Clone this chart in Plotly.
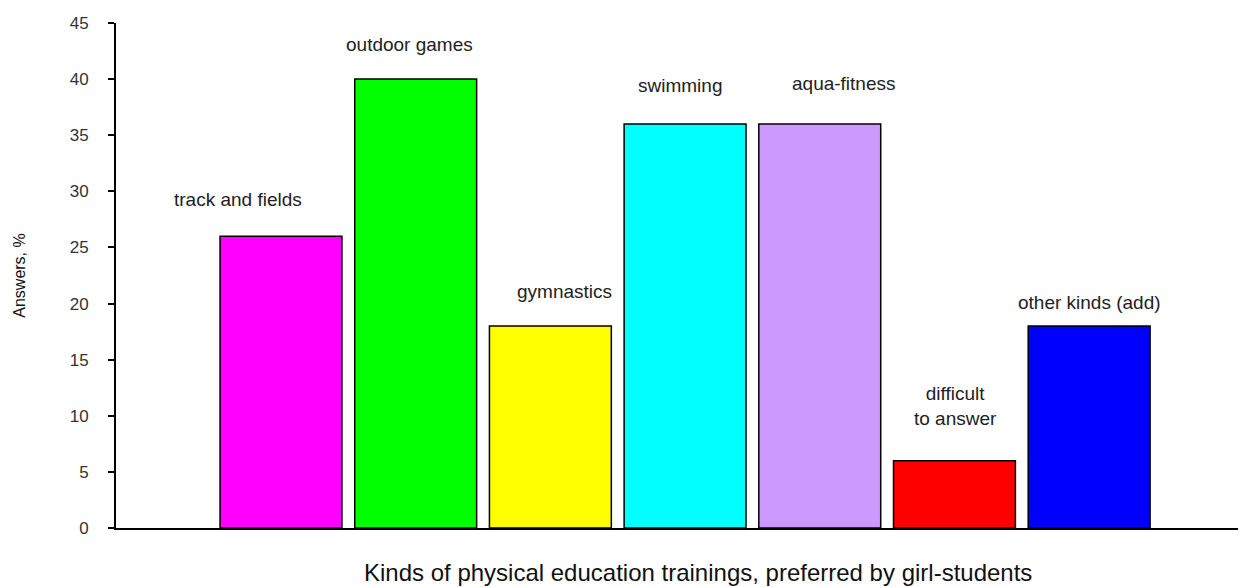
import plotly.graph_objects as go

categories = ["track and fields", "outdoor games", "gymnastics", "swimming",
              "aqua-fitness", "difficult<br>to answer", "other kinds (add)"]
values = [26, 40, 18, 36, 36, 6, 18]
colors = ["#FF00FF", "#00FF00", "#FFFF00", "#00FFFF", "#CC99FF", "#FF0000", "#0000FF"]
y_ticks = [0, 5, 10, 15, 20, 25, 30, 35, 40, 45]
x_title = "Kinds of physical education trainings, preferred by girl-students"
y_title = "Answers, %"

# label offsets (pixels) relative to the top-center of each bar
label_dx = [-43, -6, 14, -5, 24, 1, 0]
label_dy = [37, 35, 35, 39, 41, 55, 24]

xpos = list(range(1, len(categories) + 1))

fig = go.Figure()
fig.add_trace(go.Bar(
    x=xpos, y=values,
    marker=dict(color=colors, line=dict(color="black", width=1.5)),
    width=0.905,
    hoverinfo="skip",
))

for x, v, t, dx, dy in zip(xpos, values, categories, label_dx, label_dy):
    fig.add_annotation(
        x=x, y=v, text=t, showarrow=False,
        xshift=dx, yshift=dy,
        font=dict(family="Liberation Sans, Arial", size=19, color="#222"),
    )

fig.add_annotation(
    xref="paper", yref="paper", x=0.518, y=0, yshift=-44,
    xanchor="center", yanchor="middle", showarrow=False, borderpad=0,
    text=x_title,
    font=dict(family="Liberation Sans, Arial", size=24, color="#111"),
)

fig.update_layout(
    width=1238, height=579,
    margin=dict(l=108, r=6, t=15, b=59),
    paper_bgcolor="white", plot_bgcolor="white",
    showlegend=False,
    xaxis=dict(
        range=[-0.225, 8.12], showticklabels=False, ticks="",
        showgrid=False, zeroline=False,
        showline=True, linecolor="black", linewidth=2,
    ),
    yaxis=dict(
        range=[0, 45], tickvals=y_ticks, ticks="outside", ticklen=6,
        tickwidth=2, tickcolor="black",
        showgrid=False, zeroline=False,
        showline=True, linecolor="black", linewidth=2,
        ticklabelstandoff=16,
        tickfont=dict(family="Liberation Sans, Arial", size=17, color="#333"),
        title=dict(text=y_title,
                   font=dict(family="Liberation Sans, Arial", size=16, color="#111"),
                   standoff=40),
    ),
)

fig.write_html("out.html")
